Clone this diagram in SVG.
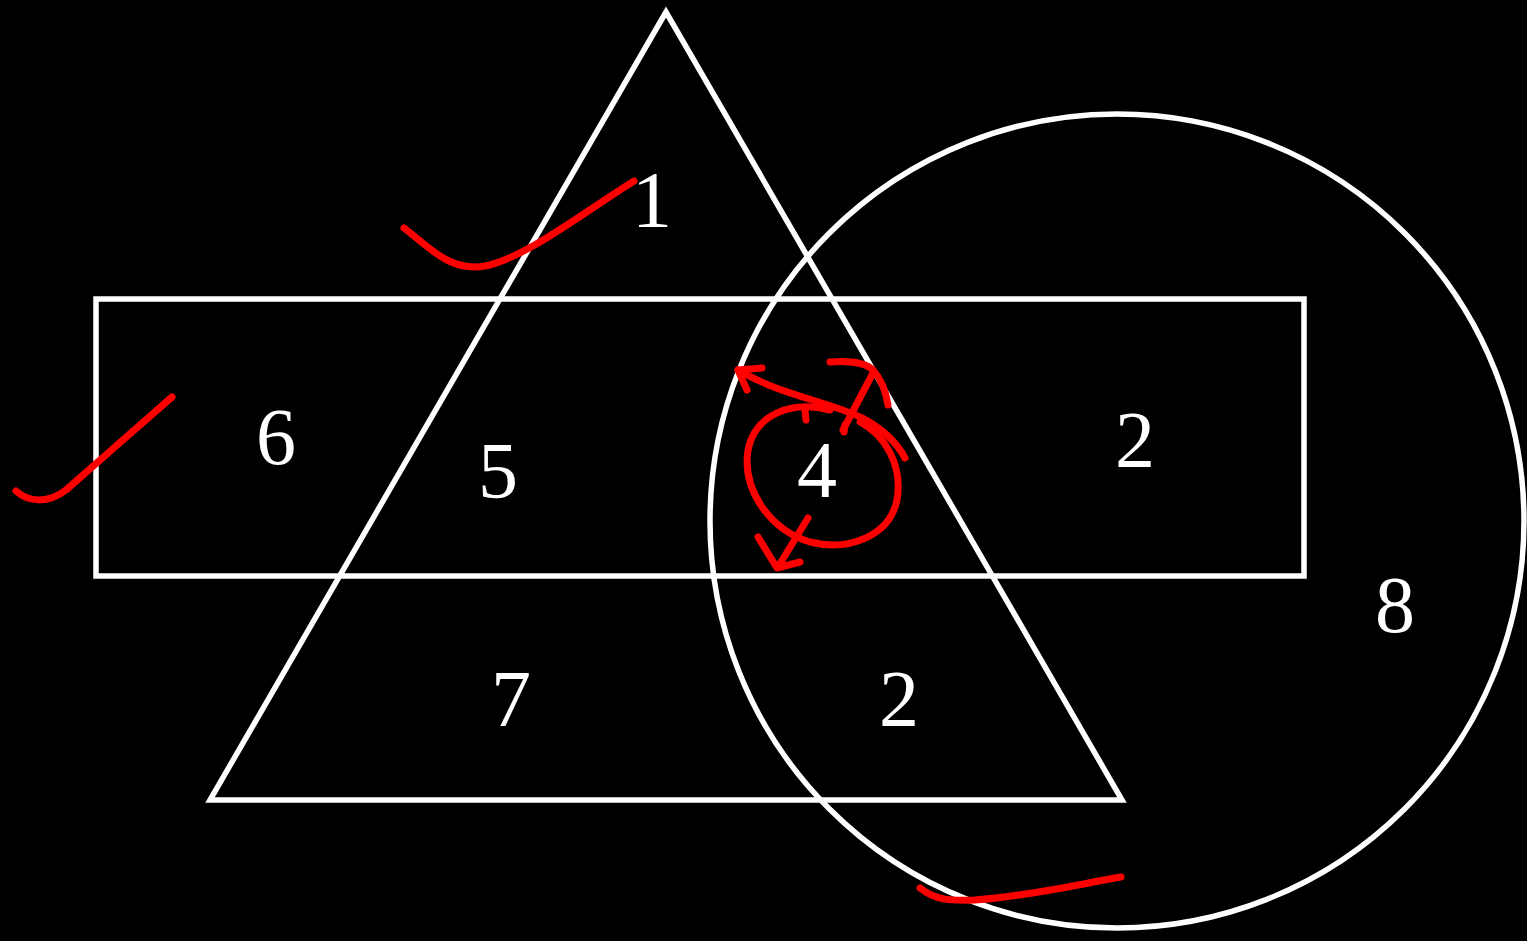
<svg xmlns="http://www.w3.org/2000/svg" width="1527" height="941" viewBox="0 0 1527 941">
<style>
.shape{fill:none;stroke:#fff;stroke-width:5.5}
.num{fill:#fff;font-family:"Liberation Serif",serif;font-size:80px;text-anchor:middle}
.ink{fill:none;stroke:#ff0000;stroke-width:7;stroke-linecap:round;stroke-linejoin:round}
</style>
<rect x="0" y="0" width="1527" height="941" fill="#000"/>
<g id="triangle"><polygon class="shape" points="666,12 210,800 1122,800"/></g>
<g id="rectangle"><rect class="shape" x="96" y="299" width="1208" height="277"/></g>
<g id="circle"><circle class="shape" cx="1117" cy="521" r="407"/></g>
<g id="labels">
<text class="num" x="652" y="227">1</text>
<text class="num" x="276" y="464">6</text>
<text class="num" x="498" y="498">5</text>
<text class="num" x="817" y="497">4</text>
<text class="num" x="1135" y="467">2</text>
<text class="num" x="1395" y="632">8</text>
<text class="num" x="511" y="726">7</text>
<text class="num" x="899" y="726">2</text>
</g>
<g id="annotations">
<path class="ink" d="M404,228 C430,248 450,272 485,266 C525,258 580,215 634,181"/>
<path class="ink" d="M16,491 C28,502 48,504 66,490 C100,460 140,425 172,397"/>
<path class="ink" d="M920,888 C935,900 950,901 975,900 C1030,896 1080,884 1121,877"/>
<path class="ink" d="M738,370 C780,395 830,402 862,418 C885,430 898,445 905,458"/>
<path class="ink" d="M738,370 L762,368 M738,370 L747,390"/>
<path class="ink" stroke-width="10" d="M830,410 C790,400 755,415 748,450 C742,490 770,530 810,542 C850,552 890,535 897,500 C903,465 885,435 860,422"/>
<path class="ink" d="M843,430 L873,373 M830,362 C855,360 868,365 873,370 C882,380 886,392 888,405"/>
<path class="ink" d="M808,518 L778,567 M758,537 L777,568 L800,562"/>
<path class="ink" d="M805,410 L806,420 M845,425 L844,432"/>
</g>
</svg>
